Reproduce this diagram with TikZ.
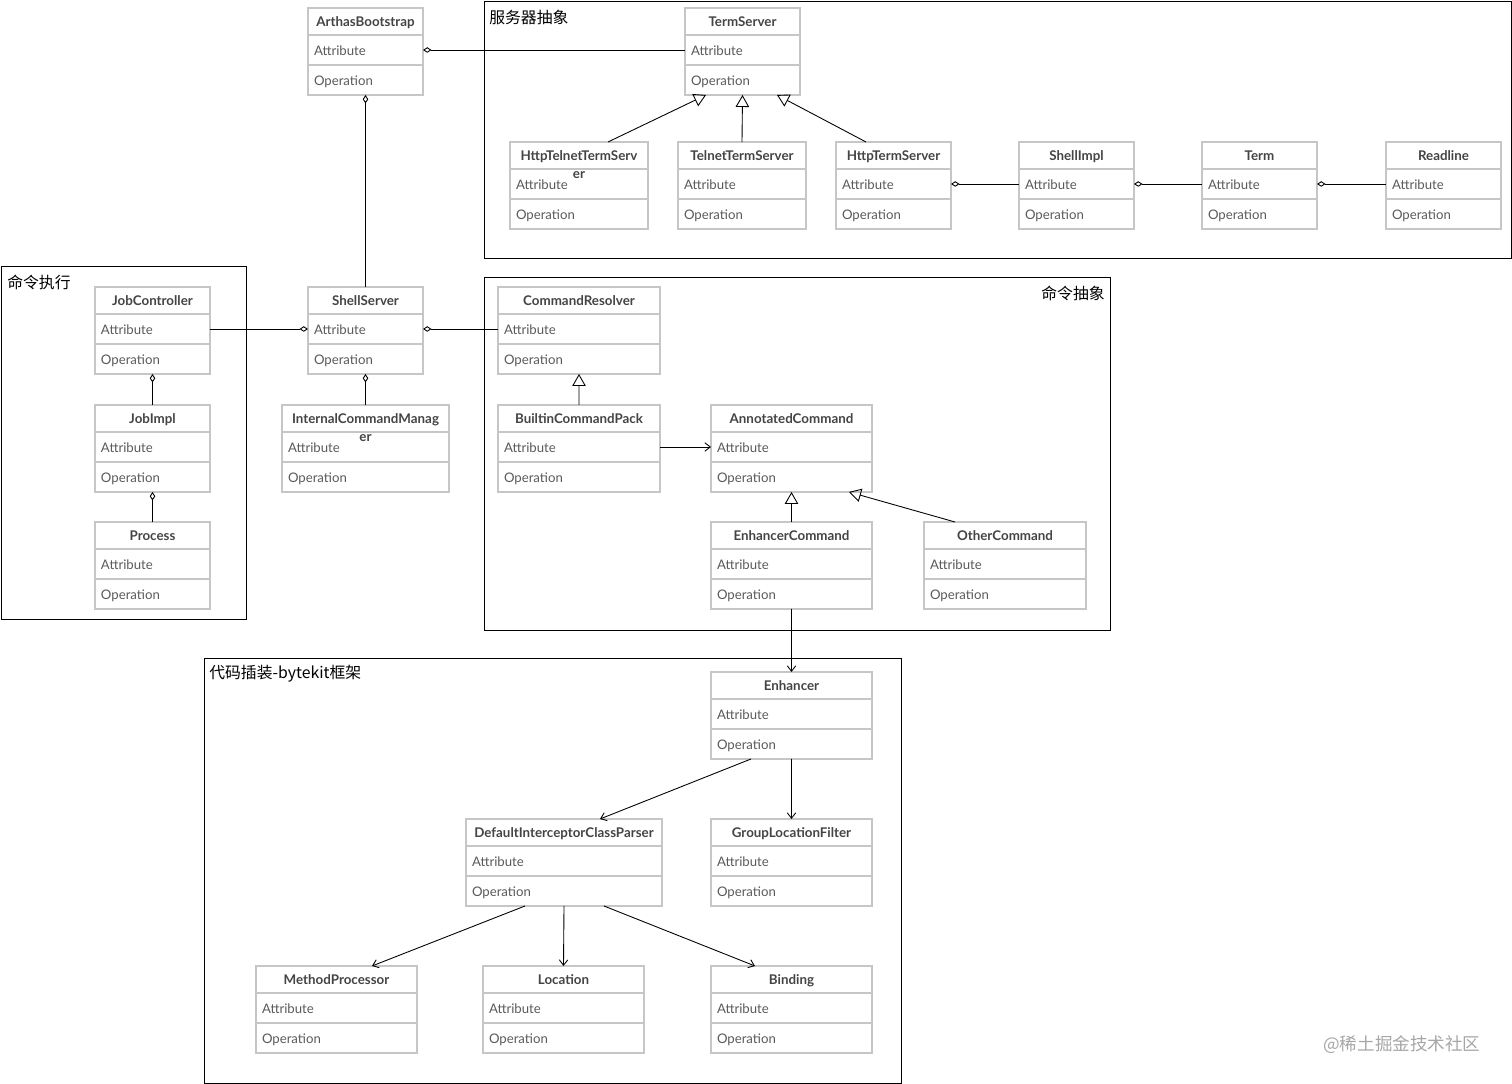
\documentclass[tikz,border=0pt]{standalone}
\usepackage{fontspec}
\setmainfont{Lato}
\newfontfamily\cjk{Noto Sans CJK SC}
\usetikzlibrary{arrows.meta, calc}
\definecolor{boxgray}{HTML}{C6C6C6}
\definecolor{titlegray}{HTML}{444444}
\definecolor{textgray}{HTML}{5A5A5A}
\definecolor{markgray}{HTML}{A6A6A6}

% class box: name, x, y, width (px), title
\newcommand{\umlclass}[5]{%
  \pgfmathsetmacro\clsw{#4*0.02}%
  \pgfmathsetmacro\clstw{#4*0.02-0.24}%
  \node[ctitle, minimum width=\clsw cm] (#1) at (#2,#3) {\begin{tabular}[t]{@{}c@{}}#5\end{tabular}};
  \node[cpart, text width=\clstw cm] (#1-a) at (#1.south west) {Attribute};
  \node[cpart, text width=\clstw cm] (#1-o) at (#1-a.south west) {Operation};
}

\begin{document}
\begin{tikzpicture}[
            x=0.02cm, y=-0.02cm,
            ctitle/.style={draw=boxgray, line width=1pt, anchor=north west, outer sep=0pt, inner sep=0pt,
                minimum height=0.54cm, font=\fontsize{7.6}{10}\selectfont\bfseries, text=titlegray,
                text height=1.6ex, text depth=0.45ex},
            cpart/.style={draw=boxgray, line width=1pt, anchor=north west, outer sep=0pt, inner xsep=0.12cm,
                inner ysep=0pt, minimum height=0.6cm, font=\fontsize{7.5}{9}\selectfont, text=textgray,
                align=left, text height=1.6ex, text depth=0.45ex},
            frame/.style={draw=black, line width=0.5pt},
            flabel/.style={inner sep=0pt, font=\cjk\fontsize{9}{10}\selectfont},
            agg/.style={{Diamond[open, length=0.17cm, width=0.11cm]}-, line width=0.5pt},
            inh/.style={-{Triangle[open, length=0.24cm, width=0.27cm]}, line width=0.5pt},
            dep/.style={-{Straight Barb[length=0.11cm, width=0.17cm]}, line width=0.5pt}
        ]
        \useasboundingbox (0,0) rectangle (1512,1084);

        % --- frames ---
        \draw[frame] (484,1) rectangle (1511,258);
        \node[flabel, anchor=west] (fserver) at (489,17) {服务器抽象};
        \draw[frame] (1,266) rectangle (246,619);
        \node[flabel, anchor=west] (fjob) at (7,282) {命令执行};
        \draw[frame] (484,277) rectangle (1110,630);
        \node[flabel, anchor=east] (fcmd) at (1105,293) {命令抽象};
        \draw[frame] (204,658) rectangle (901,1083);
        \node[flabel, anchor=west] (fkit) at (209,674) {代码插装-bytekit框架};

        % --- classes ---
        \umlclass{ab}{308}{8}{115}{ArthasBootstrap}
        \umlclass{ts}{685}{8}{115}{TermServer}
        \umlclass{htt}{510}{142}{138}{HttpTelnetTermServ\\er}
        \umlclass{tts}{678}{142}{128}{TelnetTermServer}
        \umlclass{hts}{836}{142}{115}{HttpTermServer}
        \umlclass{si}{1019}{142}{115}{ShellImpl}
        \umlclass{term}{1202}{142}{115}{Term}
        \umlclass{rl}{1386}{142}{115}{Readline}

        \umlclass{jc}{95}{287}{115}{JobController}
        \umlclass{ji}{95}{405}{115}{JobImpl}
        \umlclass{proc}{95}{522}{115}{Process}
        \umlclass{ss}{308}{287}{115}{ShellServer}
        \umlclass{icm}{282}{405}{167}{InternalCommandManag\\er}

        \umlclass{cr}{498}{287}{162}{CommandResolver}
        \umlclass{bcp}{498}{405}{162}{BuiltinCommandPack}
        \umlclass{ac}{711}{405}{161}{AnnotatedCommand}
        \umlclass{ec}{711}{522}{161}{EnhancerCommand}
        \umlclass{oc}{924}{522}{162}{OtherCommand}

        \umlclass{enh}{711}{672}{161}{Enhancer}
        \umlclass{dicp}{466}{819}{196}{DefaultInterceptorClassParser}
        \umlclass{glf}{711}{819}{161}{GroupLocationFilter}
        \umlclass{mp}{256}{966}{161}{MethodProcessor}
        \umlclass{loc}{483}{966}{161}{Location}
        \umlclass{bind}{711}{966}{161}{Binding}

        % --- connectors ---
        \draw[agg] (ab-a.east) -- (ts-a.west);
        \draw[agg] (ab-o.south) -- (ss.north);
        \draw[inh] ([xshift=0.58cm]htt.north) -- ([xshift=-0.73cm]ts-o.south);
        \draw[inh] (tts.north) -- (ts-o.south);
        \draw[inh] ([xshift=-0.55cm]hts.north) -- ([xshift=0.69cm]ts-o.south);
        \draw[agg] (hts-a.east) -- (si-a.west);
        \draw[agg] (si-a.east) -- (term-a.west);
        \draw[agg] (term-a.east) -- (rl-a.west);

        \draw[agg] (ss-a.west) -- (jc-a.east);
        \draw[agg] (ss-a.east) -- (cr-a.west);
        \draw[agg] (jc-o.south) -- (ji.north);
        \draw[agg] (ji-o.south) -- (proc.north);
        \draw[agg] (ss-o.south) -- (icm.north);

        \draw[inh] (bcp.north) -- (cr-o.south);
        \draw[dep] (bcp-a.east) -- (ac-a.west);
        \draw[inh] (ec.north) -- (ac-o.south);
        \draw[inh] ([xshift=-1.0cm]oc.north) -- ([xshift=1.15cm]ac-o.south);
        \draw[dep] (ec-o.south) -- (enh.north);

        \draw[dep] ([xshift=-0.81cm]enh-o.south) -- ([xshift=0.72cm]dicp.north);
        \draw[dep] (enh-o.south) -- (glf.north);
        \draw[dep] ([xshift=-0.78cm]dicp-o.south) -- ([xshift=0.71cm]mp.north);
        \draw[dep] (dicp-o.south) -- (loc.north);
        \draw[dep] ([xshift=0.8cm]dicp-o.south) -- ([xshift=-0.73cm]bind.north);

        \node[anchor=west, inner sep=0pt, text=markgray, font=\cjk\fontsize{10}{12}\selectfont] (mark) at (1323,1045) {@稀土掘金技术社区};
\end{tikzpicture}
\end{document}
